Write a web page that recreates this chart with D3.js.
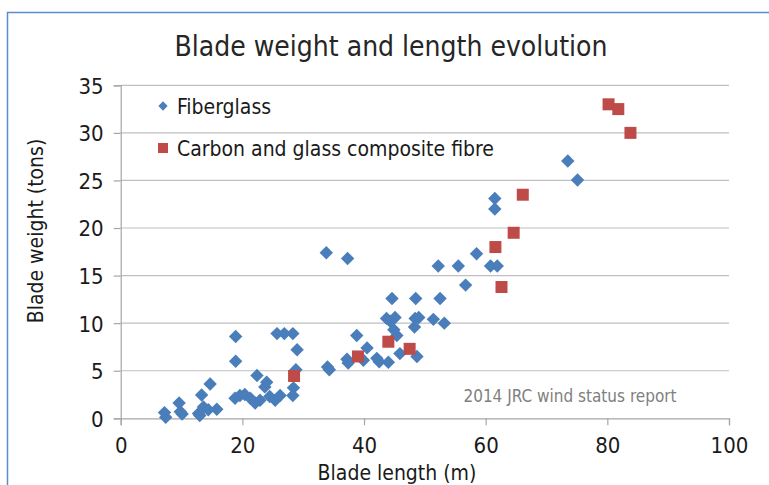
<!DOCTYPE html>
<html>
<head>
<meta charset="utf-8">
<script src="https://cdn.jsdelivr.net/npm/d3@7"></script>
<style>
  body { margin: 0; background: #fff; }
  svg { display: block; }
  text { font-family: "Liberation Sans Narrow", "DejaVu Sans Condensed", "Open Sans", sans-serif; fill: #1a1a1a; }
</style>
</head>
<body>
<div id="chart"></div>
<script>
// blade length (m), blade weight (tons)
const fiberLength = [7.2, 7.4, 9.6, 9.8, 10.1, 12.8, 13.0, 13.3, 13.6, 14.4, 14.7, 15.8,
  18.9, 18.9, 18.8, 19.6, 20.4, 21.3, 22.1, 22.9, 22.4, 24.0, 23.7, 24.5, 25.4, 26.2,
  25.7, 26.9, 28.3, 29.0, 28.8, 28.4, 28.3,
  33.8, 34.0, 34.3, 37.3,
  37.2, 37.4, 38.8, 39.9, 40.5, 42.1, 42.5, 44.0, 45.9, 48.7,
  44.6, 48.5, 52.5,
  43.7, 45.1, 44.3, 44.9, 45.4,
  48.4, 49.0, 48.3, 51.4, 53.2,
  52.2, 55.5, 58.5, 60.8, 61.9, 56.7,
  61.5, 61.5, 73.5, 75.1];
const fiberWeight = [0.6, 0.1, 1.6, 0.7, 0.45, 0.5, 0.3, 2.45, 1.2, 0.9, 3.6, 0.95,
  8.6, 6.0, 2.1, 2.4, 2.5, 2.1, 1.6, 1.9, 4.5, 3.8, 3.3, 2.3, 1.9, 2.4,
  8.9, 8.9, 8.9, 7.2, 5.1, 3.2, 2.4,
  17.4, 5.4, 5.1, 16.8,
  6.2, 5.8, 8.7, 6.1, 7.4, 6.3, 5.95, 5.9, 6.8, 6.5,
  12.6, 12.6, 12.6,
  10.5, 10.6, 10.2, 9.3, 8.7,
  10.5, 10.6, 9.6, 10.4, 10.0,
  16.0, 16.0, 17.3, 16.0, 16.0, 14.0,
  23.1, 22.0, 27.05, 25.05];

const carbonLength = [28.5, 39.0, 44.0, 47.5, 61.6, 62.6, 64.6, 66.1, 80.2, 81.8, 83.8];
const carbonWeight = [4.45, 6.5, 8.05, 7.3, 18.0, 13.8, 19.5, 23.5, 33.0, 32.5, 30.0];

const xTicks = [0, 20, 40, 60, 80, 100];
const yTicks = [0, 5, 10, 15, 20, 25, 30, 35];
const seriesNames = ["Fiberglass", "Carbon and glass composite fibre"];

const width = 769, height = 485;
const margin = { top: 85.3, right: 40, bottom: 66.7, left: 120.7 };

const svg = d3.select("#chart").append("svg")
  .attr("width", width)
  .attr("height", height);

// outer frame (top + left edges only visible)
svg.append("path")
  .attr("d", `M7.5,${height} V12.5 H${width}`)
  .attr("fill", "none")
  .attr("stroke", "#5b8cd0")
  .attr("stroke-width", 1.5);

const x = d3.scaleLinear().domain([0, 100]).range([margin.left, width - margin.right]);
const y = d3.scaleLinear().domain([0, 35]).range([height - margin.bottom, margin.top]);

// gridlines
svg.append("g")
  .selectAll("line")
  .data(yTicks.slice(1))
  .join("line")
  .attr("x1", x(0)).attr("x2", x(100))
  .attr("y1", d => y(d)).attr("y2", d => y(d))
  .attr("stroke", "#bfbfbf")
  .attr("stroke-width", 1.2);

const xAxis = svg.append("g")
  .attr("transform", `translate(0,${y(0)})`)
  .call(d3.axisBottom(x).tickValues(xTicks).tickSize(7).tickPadding(8));
const yAxis = svg.append("g")
  .attr("transform", `translate(${x(0)},0)`)
  .call(d3.axisLeft(y).tickValues(yTicks).tickSize(7).tickPadding(10));

[xAxis, yAxis].forEach(g => {
  g.select(".domain").attr("stroke", "#a6a6a6").attr("stroke-width", 1.2);
  g.selectAll(".tick line").attr("stroke", "#a6a6a6").attr("stroke-width", 1.2);
  g.selectAll(".tick text").attr("font-size", 22).attr("font-family", null).attr("fill", "#1a1a1a");
});
xAxis.selectAll(".tick text").attr("dy", "0.9em");
yAxis.selectAll(".tick text").attr("dy", "0.36em");

// title + axis labels
svg.append("text")
  .attr("x", 391).attr("y", 56)
  .attr("text-anchor", "middle")
  .attr("font-size", 28)
  .style("fill", "#262626")
  .text("Blade weight and length evolution");

svg.append("text")
  .attr("x", 397).attr("y", 480)
  .attr("text-anchor", "middle")
  .attr("font-size", 21)
  .text("Blade length (m)");

svg.append("text")
  .attr("transform", "translate(43,231) rotate(-90)")
  .attr("text-anchor", "middle")
  .attr("font-size", 21)
  .text("Blade weight (tons)");

svg.append("text")
  .attr("x", 570).attr("y", 402)
  .attr("text-anchor", "middle")
  .attr("font-size", 17)
  .style("fill", "#7f7f7f")
  .text("2014 JRC wind status report");

const blue = "#4a7ebb", red = "#be4b48";
const diamond = d3.symbol().type(d3.symbolDiamond2).size(115);

const fiber = d3.zip(fiberLength, fiberWeight);
const carbon = d3.zip(carbonLength, carbonWeight);

svg.append("g")
  .selectAll("path")
  .data(fiber)
  .join("path")
  .attr("transform", d => `translate(${x(d[0])},${y(d[1])})`)
  .attr("d", diamond)
  .attr("fill", blue);

const sq = 12;
svg.append("g")
  .selectAll("rect")
  .data(carbon)
  .join("rect")
  .attr("x", d => x(d[0]) - sq / 2)
  .attr("y", d => y(d[1]) - sq / 2)
  .attr("width", sq).attr("height", sq)
  .attr("fill", red);

// legend
const legend = svg.append("g").attr("transform", "translate(163,106)");
legend.append("path").attr("d", d3.symbol().type(d3.symbolDiamond2).size(55)).attr("fill", blue);
legend.append("rect").attr("x", -5).attr("y", 37).attr("width", 10).attr("height", 10).attr("fill", red);
legend.selectAll("text")
  .data(seriesNames)
  .join("text")
  .attr("x", 14)
  .attr("y", (d, i) => i * 42)
  .attr("dy", "0.36em")
  .attr("font-size", 21)
  .text(d => d);
</script>
</body>
</html>
